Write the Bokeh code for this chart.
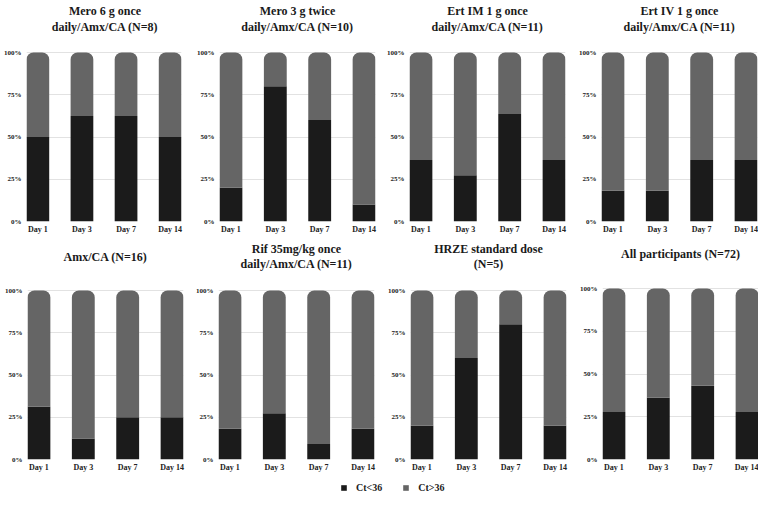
from bokeh.plotting import figure
from bokeh.layouts import column, row
from bokeh.models import (ColumnDataSource, Range1d, FixedTicker, NumeralTickFormatter,
                          Label, Legend, LegendItem)
from bokeh.embed import file_html
from bokeh.resources import INLINE

# ---------------- data ----------------
days = ["Day 1", "Day 3", "Day 7", "Day 14"]
series_names = ["Ct<36", "Ct>36"]

title_mero6 = ["Mero 6 g once", "daily/Amx/CA (N=8)"]
title_mero3 = ["Mero 3 g twice", "daily/Amx/CA (N=10)"]
title_ertim = ["Ert IM 1 g once", "daily/Amx/CA (N=11)"]
title_ertiv = ["Ert IV 1 g once", "daily/Amx/CA (N=11)"]
title_amxca = ["Amx/CA (N=16)"]
title_rif = ["Rif 35mg/kg once", "daily/Amx/CA (N=11)"]
title_hrze = ["HRZE standard dose", "(N=5)"]
title_all = ["All participants (N=72)"]

# share of participants with Ct<36 (the rest is Ct>36)
mero6_ct_lt36 = [0.50, 0.625, 0.625, 0.50]
mero3_ct_lt36 = [0.20, 0.80, 0.60, 0.10]
ertim_ct_lt36 = [0.364, 0.273, 0.636, 0.364]
ertiv_ct_lt36 = [0.182, 0.182, 0.364, 0.364]
amxca_ct_lt36 = [0.3125, 0.125, 0.25, 0.25]
rif_ct_lt36 = [0.182, 0.273, 0.091, 0.182]
hrze_ct_lt36 = [0.20, 0.60, 0.80, 0.20]
all_ct_lt36 = [0.278, 0.361, 0.431, 0.278]

y_ticks = [0, 0.25, 0.5, 0.75, 1.0]

# ---------------- style ----------------
DARK = "#1b1b1b"
GREY = "#656565"
GRID = "#e2e2e2"
FONT = "Liberation Serif"
BAR_W = 0.515


def stacked_source(vals):
    return ColumnDataSource(dict(
        x=list(range(len(days))),
        lo=vals,
        hi=[1.0] * len(vals),
    ))


def make_panel(lines, vals, width, left, right, height, bottom, bar_px, title_gaps):
    """bar_px: pixel height of the 0-100% span; the frame extends above it to hold the title."""
    n = len(days)
    src = stacked_source(vals)
    frame_h = height - bottom
    p = figure(width=width, height=height, output_backend="svg", toolbar_location=None,
               x_range=Range1d(-BAR_W / 2, n - 1 + BAR_W / 2),
               y_range=Range1d(0, frame_h / bar_px),
               min_border_left=left, min_border_right=right,
               min_border_top=0, min_border_bottom=bottom)
    p.title.visible = False
    p.vbar(x="x", bottom=0, top="lo", width=BAR_W, source=src,
           fill_color=DARK, line_color=None)
    p.vbar(x="x", bottom="lo", top="hi", width=BAR_W, source=src,
           fill_color=GREY, line_color=None, border_radius=(7, 7, 0, 0))

    p.outline_line_color = None
    p.xgrid.visible = False
    p.ygrid.ticker = FixedTicker(ticks=y_ticks)
    p.ygrid.grid_line_color = GRID
    p.ygrid.level = "underlay"

    xa = p.xaxis[0]
    xa.ticker = FixedTicker(ticks=list(range(n)))
    xa.major_label_overrides = {i: d for i, d in enumerate(days)}
    ya = p.yaxis[0]
    ya.ticker = FixedTicker(ticks=y_ticks)
    ya.formatter = NumeralTickFormatter(format="0%")
    for ax, fs, so in ((xa, "8px", 3), (ya, "7px", 5)):
        ax.axis_line_color = None
        ax.major_tick_line_color = None
        ax.minor_tick_line_color = None
        ax.major_tick_out = 0
        ax.major_tick_in = 0
        ax.minor_tick_out = 0
        ax.major_label_standoff = so
        ax.major_label_text_font = FONT
        ax.major_label_text_font_style = "bold"
        ax.major_label_text_font_size = fs
        ax.major_label_text_color = "#222222"

    frame_w = width - left - right
    for line, gap in zip(lines, title_gaps):
        p.add_layout(Label(x=frame_w / 2, y=bar_px + gap, x_units="screen", y_units="screen",
                           text=line, text_align="center", text_baseline="middle",
                           text_font=FONT, text_font_size="12px", text_font_style="bold",
                           text_color="#1a1a1a"))
    return p


r1h, r1b = 238, 17
r2h, r2b = 237, 16
BAR_PX = 169

two_r1 = [42, 26]
two_r2 = [42, 27]
one_r2 = [34]

p1 = make_panel(title_mero6, mero6_ct_lt36, 190, 24, 9, r1h, r1b, BAR_PX, two_r1)
p2 = make_panel(title_mero3, mero3_ct_lt36, 190, 29, 5, r1h, r1b, BAR_PX, two_r1)
p3 = make_panel(title_ertim, ertim_ct_lt36, 190, 29, 5, r1h, r1b, BAR_PX, two_r1)
p4 = make_panel(title_ertiv, ertiv_ct_lt36, 188, 31, 1, r1h, r1b, BAR_PX, two_r1)

p5 = make_panel(title_amxca, amxca_ct_lt36, 190, 27, 7, r2h, r2b, BAR_PX, one_r2)
p6 = make_panel(title_rif, rif_ct_lt36, 192, 28, 8, r2h, r2b, BAR_PX, two_r2)
p7 = make_panel(title_hrze, hrze_ct_lt36, 192, 28, 8, r2h, r2b, BAR_PX, two_r2)
p8 = make_panel(title_all, all_ct_lt36, 184, 28, 0, r2h, r2b, BAR_PX + 2, [35])

# legend strip (renderers hidden, only their legend entries are shown)
lf = figure(width=758, height=25, output_backend="svg", toolbar_location=None,
            x_axis_type=None, y_axis_type=None, min_border=0,
            x_range=Range1d(0, 1), y_range=Range1d(0, 1))
lf.outline_line_color = None
lf.grid.visible = False
lsrc = stacked_source(all_ct_lt36)
ra = lf.vbar(x="x", bottom=0, top="lo", width=BAR_W, source=lsrc,
             fill_color=DARK, line_color=None, visible=False)
rb = lf.vbar(x="x", bottom="lo", top="hi", width=BAR_W, source=lsrc,
             fill_color=GREY, line_color=None, visible=False)
legend = Legend(items=[LegendItem(label=series_names[0], renderers=[ra]),
                       LegendItem(label=series_names[1], renderers=[rb])],
                orientation="horizontal", location=(340, 7),
                glyph_width=7, glyph_height=7, label_standoff=9, spacing=20,
                label_height=12, label_width=20,
                label_text_font=FONT, label_text_font_style="bold",
                label_text_font_size="10px", label_text_color="#222222",
                border_line_color=None, background_fill_alpha=0,
                inactive_fill_alpha=0, click_policy="none",
                padding=0, margin=0)
lf.add_layout(legend)

layout = column(row(p1, p2, p3, p4), row(p5, p6, p7, p8), lf)

with open("out.html", "w") as f:
    f.write(file_html(layout, INLINE))
